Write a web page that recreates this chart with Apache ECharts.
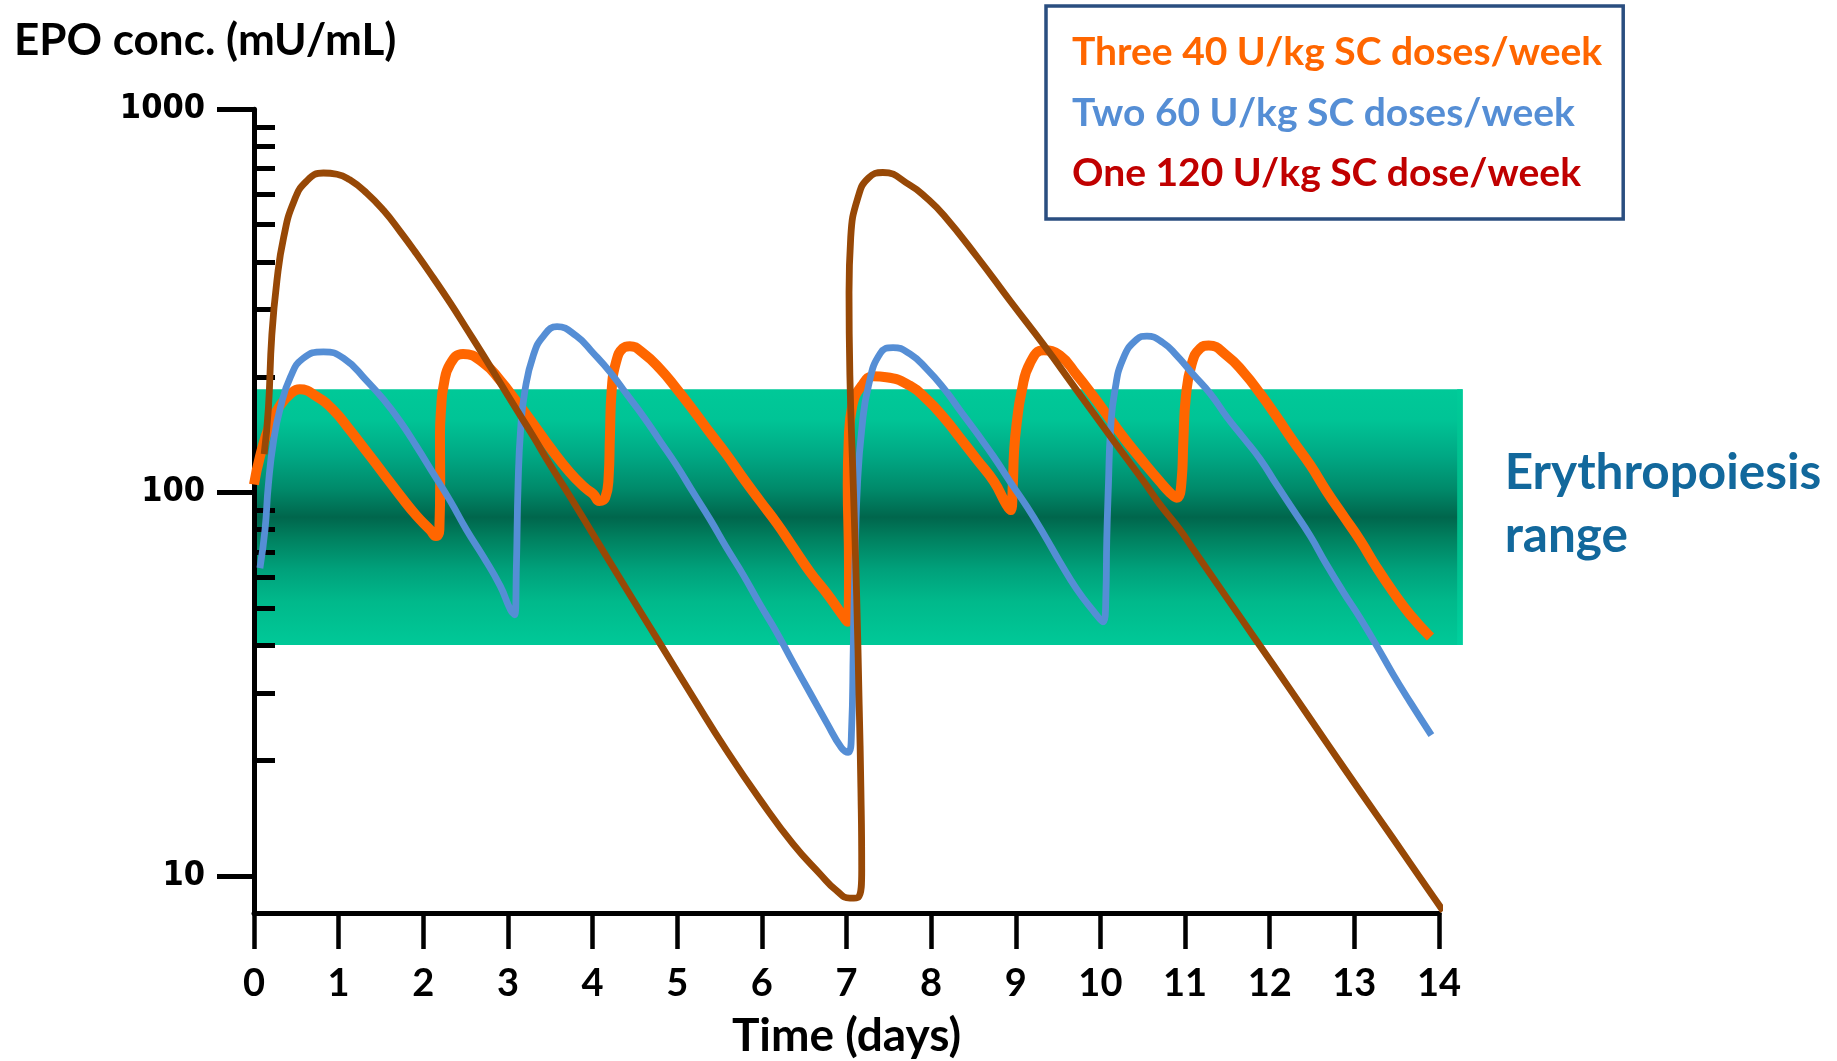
<!DOCTYPE html>
<html>
<head>
<meta charset="utf-8">
<script src="https://cdn.jsdelivr.net/npm/echarts@6/dist/echarts.min.js"></script>
<style>
html,body{margin:0;padding:0;background:#ffffff;}
#chart{width:1837px;height:1061px;}
</style>
</head>
<body>
<div id="chart"></div>
<script>
// ---------------- data ----------------
const SERIES_NAMES = ['Three 40 U/kg SC doses/week', 'Two 60 U/kg SC doses/week', 'One 120 U/kg SC dose/week'];
const Y_TITLE = 'EPO conc. (mU/mL)';
const X_TITLE = 'Time (days)';
const BAND_TEXT = 'Erythropoiesis\nrange';

const X_MIN = 0, X_MAX = 14, X_STEP = 1;
const Y_MIN = 8, Y_MAX = 1000;
const Y_MAJOR_TICKS = [10, 100, 1000];
const Y_MINOR_TICKS = [20, 30, 40, 50, 60, 70, 80, 90, 200, 300, 400, 500, 600, 700, 800, 900];

const BAND_LOW = 40, BAND_HIGH = 186, BAND_END_DAY = 14.28, BAND_EDGE_DAY = 14.215;

// [day, mU/mL]
const ORANGE_THREE_40 = [
  [0.00,105],[0.07,124],[0.19,151],[0.31,169],[0.43,181],[0.54,186],[0.74,178],[0.94,164],[1.13,146],[1.33,128],
  [1.53,112],[1.73,98],[1.92,87],[2.08,80],[2.15,77],[2.19,80],[2.20,108],[2.197,140],[2.21,165],[2.24,190],
  [2.32,217],[2.47,230],[2.71,218],[2.91,196],[3.10,173],[3.30,151],[3.50,131],[3.73,113],[3.91,103],[4.01,99],
  [4.08,95],[4.15,97],[4.19,110],[4.205,140],[4.225,184],[4.28,220],[4.36,238],[4.44,241],[4.60,231],[4.80,210],
  [4.99,187],[5.19,164],[5.39,143],[5.58,126],[5.78,109],[5.98,95],[6.18,83],[6.37,72],[6.57,62],[6.77,54.5],
  [6.92,49],[7.01,46],[7.03,64],[7.015,105],[7.026,136],[7.07,169],[7.18,190],[7.32,201],[7.47,200],[7.75,190],
  [7.95,175],[8.15,157],[8.34,139],[8.54,122],[8.74,107],[8.89,93],[8.94,90],[8.965,105],[8.98,128],[9.01,151],
  [9.07,184],[9.17,218],[9.33,235],[9.52,228],[9.72,203],[9.92,178],[10.11,156],[10.31,136],[10.51,120],[10.70,107],
  [10.82,100],[10.90,97],[10.96,108],[10.98,136],[11.01,178],[11.08,217],[11.18,238],[11.28,242],[11.49,228],[11.69,206],
  [11.89,181],[12.08,158],[12.28,136],[12.48,118],[12.67,101],[12.87,87],[13.07,75],[13.26,64],[13.46,55],[13.66,48],
  [13.90,42]
];

const BLUE_TWO_60 = [
  [0.07,63.5],[0.13,80],[0.17,105],[0.23,136],[0.31,166],[0.43,200],[0.58,224],[0.82,233],[1.06,224],[1.33,196],
  [1.53,175],[1.73,153],[1.92,132],[2.12,112],[2.32,95],[2.51,80],[2.71,68],[2.91,57],[3.03,49.5],[3.08,48],
  [3.10,64],[3.12,105],[3.15,146],[3.20,184],[3.30,228],[3.42,256],[3.58,271],[3.81,256],[4.01,231],[4.21,206],
  [4.40,181],[4.60,158],[4.80,136],[4.99,118],[5.19,100],[5.39,85],[5.58,72],[5.78,61],[5.98,51],[6.18,43],
  [6.37,36],[6.57,30],[6.77,25],[6.94,21.6],[7.02,21],[7.06,24],[7.08,39],[7.10,64],[7.13,105],[7.18,146],
  [7.26,190],[7.40,231],[7.55,239],[7.75,230],[7.95,210],[8.15,187],[8.34,164],[8.54,143],[8.74,124],[8.93,107],
  [9.13,92],[9.33,78],[9.52,66],[9.72,56],[9.92,49],[10.03,46],[10.065,54],[10.075,75],[10.095,105],[10.12,146],
  [10.17,184],[10.27,224],[10.43,251],[10.55,256],[10.74,246],[10.90,228],[11.10,203],[11.30,181],[11.49,158],[11.69,139],
  [11.89,122],[12.08,105],[12.28,90],[12.48,77],[12.67,65],[12.87,55],[13.07,47],[13.26,40],[13.46,33.5],[13.66,28.4],
  [13.91,23.3]
];

const BROWN_ONE_120 = [
  [0.12,126],[0.17,166],[0.21,256],[0.27,356],[0.35,463],[0.47,574],[0.62,649],[0.82,682],[0.98,677],[1.13,655],
  [1.33,605],[1.53,545],[1.73,479],[1.92,420],[2.12,363],[2.32,312],[2.51,268],[2.71,228],[2.91,193],[3.10,165],
  [3.30,140],[3.50,118],[3.73,98],[4.01,77.5],[4.40,56],[4.80,40.3],[5.19,29.2],[5.58,21.3],[5.98,15.8],[6.37,12.1],
  [6.69,10.1],[6.88,9.16],[7.04,8.75],[7.14,8.8],[7.18,10.4],[7.17,17],[7.15,28],[7.12,54],[7.08,105],[7.04,203],
  [7.03,333],[7.05,463],[7.14,593],[7.26,662],[7.43,684],[7.75,634],[7.95,586],[8.15,529],[8.54,413],[8.93,317],
  [9.33,243],[9.72,185],[10.11,141],[10.51,107],[10.70,93.3],[10.94,80],[11.10,71],[11.49,53.3],[11.83,41.5],[12.28,29.8],
  [12.67,22.3],[13.07,16.6],[13.46,12.5],[13.86,9.3],[14.05,8.1]
];

// ---------------- layout / style ----------------
const COLORS = ['#FF6600', '#558ED5', '#974806'];
const LEGEND_TEXT_COLORS = ['#FF6600', '#558ED5', '#C00000'];
const GRID_LEFT = 254, GRID_TOP = 109.3, GRID_HEIGHT = 803.7, DAY_PX = 84.64;
const CAL = 'Lato, "Open Sans", sans-serif';

const chart = echarts.init(document.getElementById('chart'), null, {renderer: 'canvas'});

const bandGradient = {
  type: 'linear', x: 0, y: 0, x2: 0, y2: 1,
  colorStops: [
    {offset: 0, color: '#00C998'},
    {offset: 0.12, color: '#00C496'},
    {offset: 0.26, color: '#00A884'},
    {offset: 0.39, color: '#008A6A'},
    {offset: 0.50, color: '#00664C'},
    {offset: 0.58, color: '#00805F'},
    {offset: 0.70, color: '#00A07A'},
    {offset: 0.83, color: '#00B98B'},
    {offset: 1, color: '#00C998'}
  ]
};
const edgeGradient = {
  type: 'linear', x: 0, y: 0, x2: 0, y2: 1,
  colorStops: [
    {offset: 0, color: '#00CC9A'},
    {offset: 0.5, color: '#00B888'},
    {offset: 1, color: '#00D09E'}
  ]
};

function curve(name, data, color, width, z) {
  return {
    name: name, type: 'line', xAxisIndex: 0, yAxisIndex: 0,
    data: data, smooth: 0.5, symbol: 'none', showSymbol: false, clip: false,
    lineStyle: {color: color, width: width, join: 'round'},
    itemStyle: {color: color}, z: z, silent: true
  };
}

const option = {
  animation: false,
  backgroundColor: '#ffffff',
  title: [{
    text: Y_TITLE, left: 14, top: 17, padding: 0,
    textStyle: {fontFamily: CAL, fontWeight: 'bold', fontSize: 44, lineHeight: 48, color: '#000'}
  }],
  legend: {
    orient: 'vertical', left: 1046, top: 6,
    padding: [26.7, 21, 25.6, 21],
    borderColor: '#2A4E80', borderWidth: 3.5, backgroundColor: '#ffffff',
    itemWidth: 0, itemHeight: 10, itemGap: 20.4, icon: 'none',
    selectedMode: false,
    textStyle: {fontFamily: CAL, fontWeight: 'bold', fontSize: 39, lineHeight: 40},
    data: SERIES_NAMES.map((n, i) => ({name: n, textStyle: {color: LEGEND_TEXT_COLORS[i]}}))
  },
  grid: [
    {left: GRID_LEFT, top: GRID_TOP, width: (X_MAX - X_MIN) * DAY_PX, height: GRID_HEIGHT, outerBoundsMode: 'none'},
    {left: GRID_LEFT, top: GRID_TOP, width: BAND_END_DAY * DAY_PX, height: GRID_HEIGHT, outerBoundsMode: 'none'}
  ],
  xAxis: [
    {
      gridIndex: 0, type: 'value', min: X_MIN, max: X_MAX, interval: X_STEP, z: 3,
      axisLine: {show: true, onZero: false, lineStyle: {color: '#000', width: 5}},
      axisTick: {show: true, length: 36, lineStyle: {color: '#000', width: 4.5}},
      axisLabel: {margin: 52, fontFamily: CAL, fontWeight: 'bold', fontSize: 38, lineHeight: 38, color: '#000'},
      splitLine: {show: false},
      name: X_TITLE, nameLocation: 'middle', nameGap: 100,
      nameTextStyle: {fontFamily: CAL, fontWeight: 'bold', fontSize: 46, lineHeight: 46, color: '#000'}
    },
    {gridIndex: 1, type: 'value', min: 0, max: BAND_END_DAY, show: false}
  ],
  yAxis: [
    {
      gridIndex: 0, type: 'log', logBase: 10, min: Y_MIN, max: Y_MAX, z: 3,
      axisLine: {show: true, onZero: false, lineStyle: {color: '#000', width: 5}},
      axisTick: {show: true, length: 37, customValues: Y_MAJOR_TICKS, lineStyle: {color: '#000', width: 5}},
      axisLabel: {
        customValues: Y_MAJOR_TICKS, margin: 49,
        fontFamily: '"DejaVu Sans Condensed", "DejaVu Sans", Verdana, sans-serif', fontWeight: 'bold', fontSize: 34, color: '#000',
        formatter: v => String(Math.round(v))
      },
      splitLine: {show: false}, minorTick: {show: false}
    },
    {
      gridIndex: 0, type: 'log', logBase: 10, min: Y_MIN, max: Y_MAX, z: 3,
      axisLine: {show: false},
      axisTick: {show: true, length: 21, customValues: Y_MINOR_TICKS, lineStyle: {color: '#000', width: 5}},
      axisLabel: {show: false},
      splitLine: {show: false}
    },
    {gridIndex: 1, type: 'log', logBase: 10, min: Y_MIN, max: Y_MAX, show: false}
  ],
  series: [
    {
      name: 'band', type: 'line', xAxisIndex: 1, yAxisIndex: 2, data: [], silent: true, z: 1,
      markArea: {
        silent: true, z: 1,
        data: [
          [
            {
              xAxis: 0, yAxis: BAND_HIGH,
              itemStyle: {color: bandGradient},
              label: {
                show: true, position: 'right', distance: 42, offset: [0, -13],
                formatter: BAND_TEXT, align: 'left',
                fontFamily: CAL, fontWeight: 'bold', fontSize: 49.5, lineHeight: 63, color: '#12689C'
              }
            },
            {xAxis: BAND_END_DAY, yAxis: BAND_LOW}
          ],
          [
            {xAxis: BAND_EDGE_DAY, yAxis: BAND_HIGH, itemStyle: {color: edgeGradient}, label: {show: false}},
            {xAxis: BAND_END_DAY, yAxis: BAND_LOW}
          ]
        ]
      }
    },
    curve(SERIES_NAMES[0], ORANGE_THREE_40, COLORS[0], 10, 4),
    curve(SERIES_NAMES[1], BLUE_TWO_60, COLORS[1], 6.8, 5),
    curve(SERIES_NAMES[2], BROWN_ONE_120, COLORS[2], 6.8, 6)
  ]
};

chart.setOption(option);
</script>
</body>
</html>
